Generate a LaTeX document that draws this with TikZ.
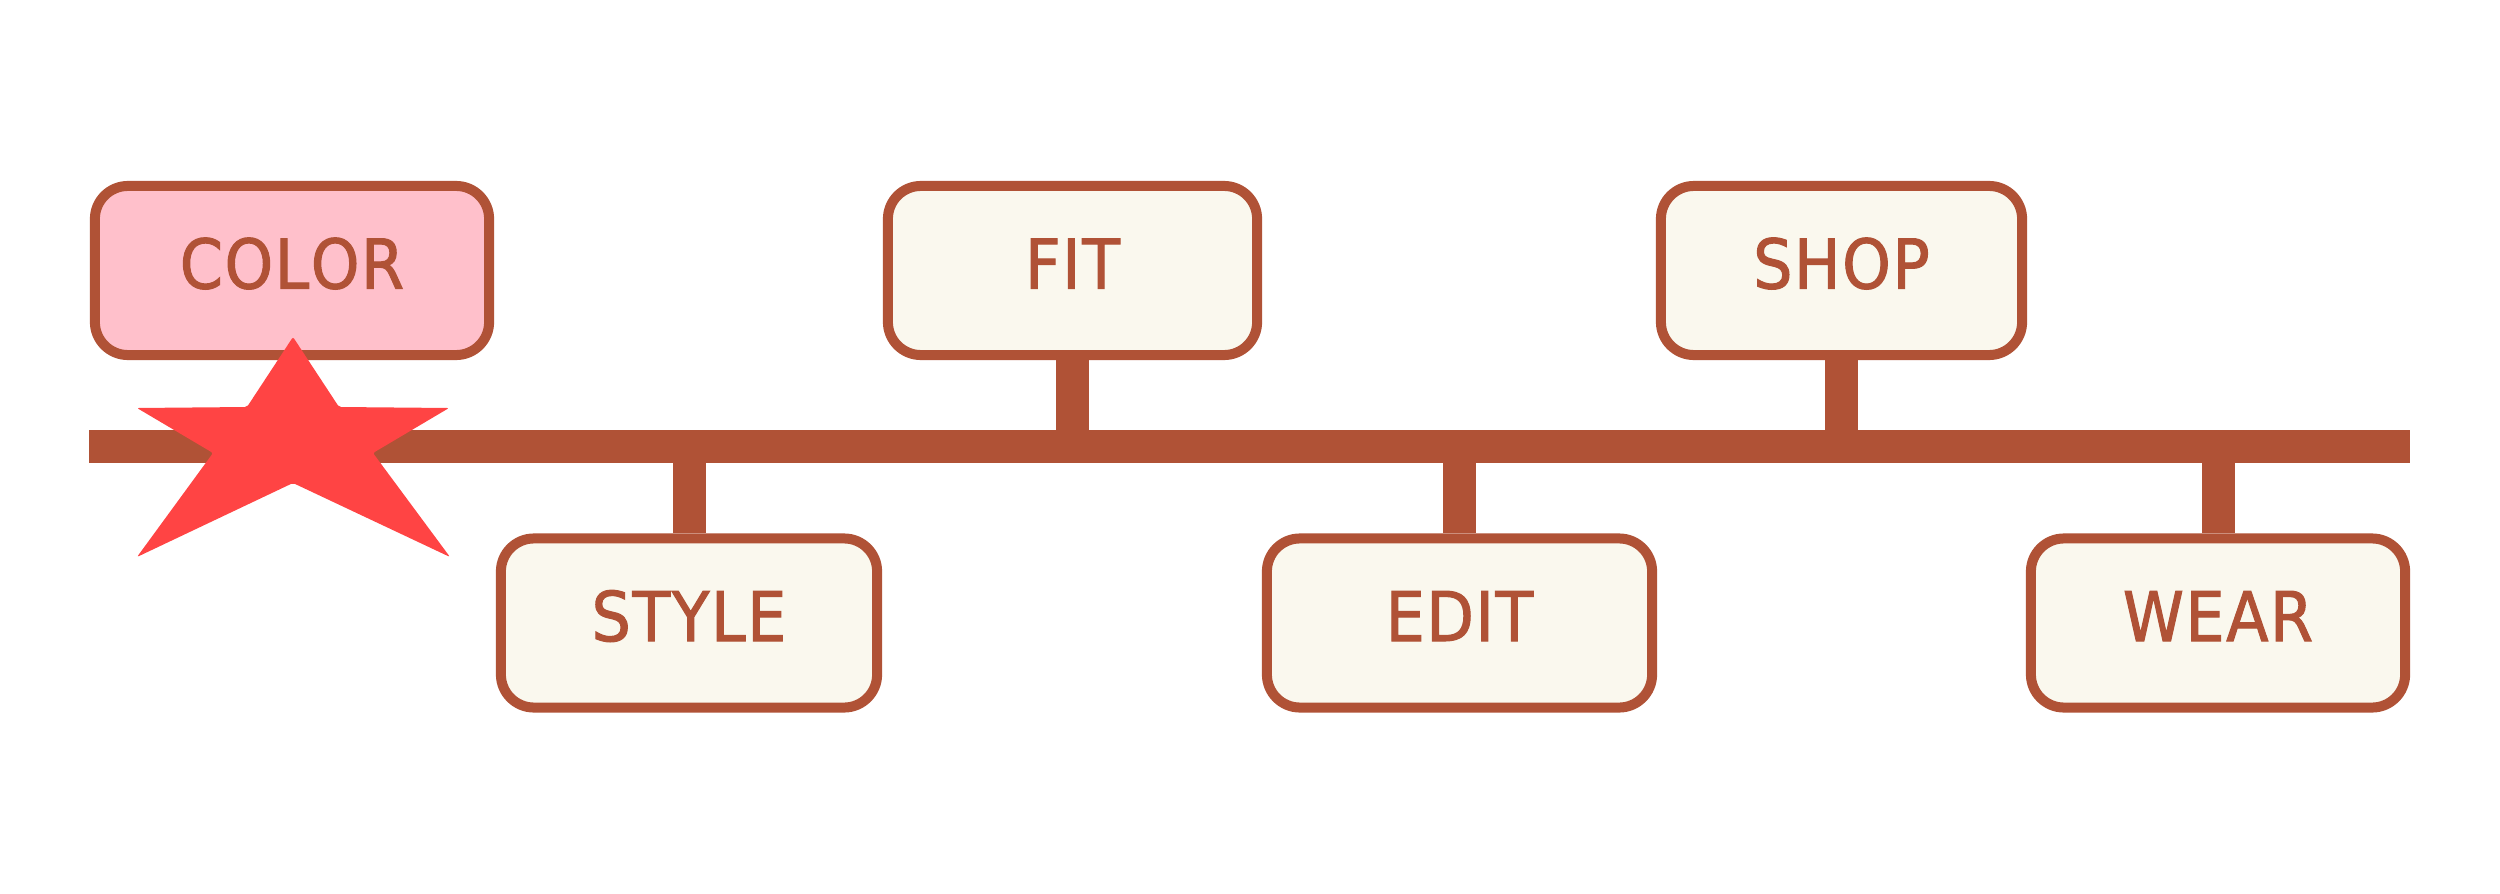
\documentclass[tikz,border=0pt]{standalone}
\usepackage{fontspec}
\setmainfont{DejaVu Sans Condensed}[Kerning=Off,FakeBold=1.5,LetterSpace=2.5]
\usepackage{tikz}
\usetikzlibrary{calc}

\definecolor{rust}{RGB}{176,82,54}
\definecolor{cream}{RGB}{250,248,238}
\definecolor{blush}{RGB}{255,192,203}
\definecolor{starred}{RGB}{255,68,68}

\tikzset{
  tagbox/.style={draw=rust,fill=cream,line width=0.1cm,rounded corners=0.33cm,
    minimum height=1.69cm,inner sep=0pt,text height=0.5cm,text depth=0.14cm,
    text=rust,font=\fontsize{19.5}{24}\selectfont},
  spine/.style={draw=rust,line width=0.33cm},
  stem/.style={draw=rust,line width=0.33cm}
}

\begin{document}
\begin{tikzpicture}[x=0.01cm,y=-0.01cm]
  \useasboundingbox (0,0) rectangle (2500,894);
  %
  % Timeline bar
  \coordinate (tl) at (89,446.5);
  \coordinate (tr) at (2410,446.5);
  \draw[spine] (tl) -- (tr);
  %
  % Boxes above the bar
  \node[tagbox,fill=blush,minimum width=3.94cm] (color) at (292,270.5) {COLOR};
  \node[tagbox,minimum width=3.69cm] (fit) at (1072.5,270.5) {FIT};
  \node[tagbox,minimum width=3.61cm] (shop) at (1841.5,270.5) {SHOP};
  %
  % Boxes below the bar
  \node[tagbox,minimum width=3.76cm] (style) at (689,623) {STYLE};
  \node[tagbox,minimum width=3.85cm] (edit) at (1459.5,623) {EDIT};
  \node[tagbox,minimum width=3.74cm] (wear) at (2218,623) {WEAR};
  %
  % Stems
  \draw[stem] (fit.south) -- (fit.south |- tl);
  \draw[stem] (shop.south) -- (shop.south |- tl);
  \draw[stem] (style.north) -- (style.north |- tl);
  \draw[stem] (edit.north) -- (edit.north |- tl);
  \draw[stem] (wear.north) -- (wear.north |- tl);
  %
  % Star
  \fill[starred,rounded corners=0.02cm]
    (293,337) -- (339,407) -- (449,408) -- (373,453) -- (450,557)
    -- (293,483) -- (137,557) -- (213,453) -- (137,408) -- (247,407) -- cycle;
  %
\end{tikzpicture}
\end{document}
